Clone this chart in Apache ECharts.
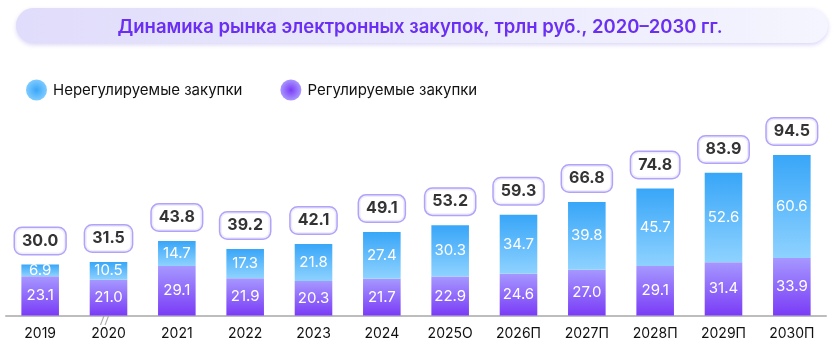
<!DOCTYPE html>
<html><head><meta charset="utf-8">
<script src="https://cdn.jsdelivr.net/npm/echarts@6/dist/echarts.min.js"></script>
<style>html,body{margin:0;padding:0;background:#fff}#c{width:840px;height:353px}</style>
</head><body><div id="c"></div>
<script>
const categories = ['2019','2020','2021','2022','2023','2024','2025О','2026П','2027П','2028П','2029П','2030П'];
const regulated = [23.1,21.0,29.1,21.9,20.3,21.7,22.9,24.6,27.0,29.1,31.4,33.9];
const unregulated = [6.9,10.5,14.7,17.3,21.8,27.4,30.3,34.7,39.8,45.7,52.6,60.6];
const totals = [30.0,31.5,43.8,39.2,42.1,49.1,53.2,59.3,66.8,74.8,83.9,94.5];
const breakMark = [[1,0]];

const FONT = 'Inter, "Noto Sans", sans-serif';
const chart = echarts.init(document.getElementById('c'), null, {renderer:'canvas'});
const lin = (c1,c2)=>new echarts.graphic.LinearGradient(0,0,0,1,[{offset:0,color:c1},{offset:1,color:c2}]);
const rad = (c1,c2)=>new echarts.graphic.RadialGradient(0.5,0.5,0.5,[{offset:0,color:c1},{offset:1,color:c2}]);
const inLabel = {show:true, position:'inside', color:'#fff', fontSize:15, textBorderWidth:0, textShadowBlur:0,
  fontFamily:FONT, formatter:p=>p.value.toFixed(1)};

chart.setOption({
  animation:false,
  textStyle:{fontFamily:FONT},
  graphic:[{
    type:'rect', left:16, top:8, z:0,
    shape:{width:812, height:35, r:17.5},
    style:{fill:new echarts.graphic.LinearGradient(0,0,1,0,[{offset:0,color:'#e0dcfb'},{offset:1,color:'#f4f5fe'}]),
      shadowBlur:4, shadowOffsetY:2, shadowColor:'rgba(150,140,230,0.35)'}
  }],
  title:{text:'Динамика рынка электронных закупок, трлн руб., 2020–2030 гг.', left:'center', top:13,
    textStyle:{color:'#6a2ff2', fontSize:18.5, fontWeight:600, fontFamily:FONT}, z:5},
  legend:{left:21, top:74.5, itemWidth:21, itemHeight:21, itemGap:38, icon:'circle',
    textStyle:{fontSize:15, color:'#111', padding:[0,0,0,1], fontFamily:FONT},
    data:[{name:'Нерегулируемые закупки', itemStyle:{color:rad('#3aa6f8','#7fcbff')}},
          {name:'Регулируемые закупки', itemStyle:{color:rad('#7a3cf6','#a996ff')}}]},
  grid:{left:6, right:14, top:111.7, bottom:37.5},
  xAxis:{type:'category', data:categories,
    axisLine:{lineStyle:{color:'#bdbdbd', width:2}}, axisTick:{show:false},
    axisLabel:{color:'#111', fontSize:14, margin:11, fontFamily:FONT}},
  yAxis:{type:'value', min:0, max:120, show:false, splitLine:{show:false}},
  series:[
    {name:'Регулируемые закупки', type:'bar', stack:'s', barWidth:'55%', data:regulated,
      itemStyle:{color:lin('#a698ff','#7a3cf6')}, label:inLabel},
    {name:'Нерегулируемые закупки', type:'bar', stack:'s', barWidth:'55%', data:unregulated,
      itemStyle:{color:lin('#38a6f8','#8ed2ff')}, label:inLabel},
    {name:'total', type:'scatter', data:totals, symbolSize:1, itemStyle:{color:'rgba(0,0,0,0)'}, z:4,
      label:{show:true, position:'top', distance:10, formatter:p=>p.value.toFixed(1),
        color:'#000', fontSize:16, fontWeight:'bold', backgroundColor:'#fff', fontFamily:FONT,
        borderColor:'#9d8cf6', borderWidth:1.5, borderRadius:7, padding:[5,7,5,7]}},
    {name:'break', type:'scatter', data:breakMark, symbol:'path://M0 8L3 0M4 8L7 0',
      symbolSize:[8,9], symbolOffset:[-4,5], z:6,
      itemStyle:{color:'rgba(0,0,0,0)', borderColor:'#999', borderWidth:1.2}}
  ]
});
</script></body></html>
